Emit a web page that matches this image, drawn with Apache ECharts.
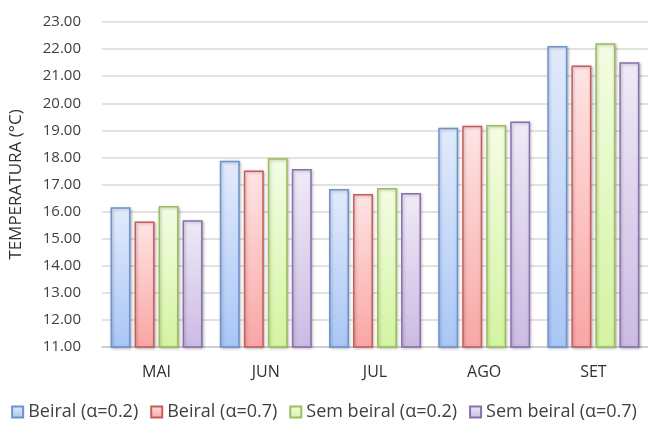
<!DOCTYPE html>
<html><head><meta charset="utf-8">
<script src="https://cdn.jsdelivr.net/npm/echarts@6/dist/echarts.min.js"></script>
<style>html,body{margin:0;padding:0;background:#fff}#c{width:648px;height:426px}</style>
</head><body><div id="c"></div>
<script>
const categories = ['MAI', 'JUN', 'JUL', 'AGO', 'SET'];
const seriesNames = ['Beiral (α=0.2)', 'Beiral (α=0.7)', 'Sem beiral (α=0.2)', 'Sem beiral (α=0.7)'];
const beiral02 = [16.16, 17.88, 16.83, 19.10, 22.11];
const beiral07 = [15.63, 17.52, 16.65, 19.17, 21.39];
const semBeiral02 = [16.21, 17.97, 16.87, 19.20, 22.22];
const semBeiral07 = [15.68, 17.57, 16.69, 19.33, 21.51];
const yTicks = [11, 12, 13, 14, 15, 16, 17, 18, 19, 20, 21, 22, 23];

const styles = [
  {top: '#e2ebfc', bottom: '#a9c6f6', border: '#6d93cd'},
  {top: '#ffe4e4', bottom: '#f8a6a4', border: '#c75d5b'},
  {top: '#f4fde4', bottom: '#d3f4a0', border: '#9cbd5c'},
  {top: '#efeaf7', bottom: '#cbbbe3', border: '#8a6fae'}
];
const values = [beiral02, beiral07, semBeiral02, semBeiral07];
const font = '"Open Sans", sans-serif';

const chart = echarts.init(document.getElementById('c'));
chart.setOption({
  animation: false,
  textStyle: {fontFamily: font},
  grid: {left: 100, right: 0, top: 22, bottom: 79},
  legend: {
    bottom: 0, left: 'center', icon: 'rect', itemWidth: 11, itemHeight: 11, itemGap: 12,
    textStyle: {fontSize: 18, color: '#404040', fontFamily: font},
    data: seriesNames
  },
  xAxis: {
    type: 'category', data: categories,
    axisLine: {lineStyle: {color: '#c8c8c8', width: 1.5}},
    axisTick: {show: false},
    axisLabel: {color: '#303030', fontSize: 16, margin: 17, fontFamily: font},
  },
  yAxis: {
    type: 'value', min: yTicks[0], max: yTicks[yTicks.length - 1], interval: 1,
    name: 'TEMPERATURA (°C)', nameLocation: 'middle', nameGap: 77, nameRotate: 90,
    nameTextStyle: {color: '#303030', fontSize: 17, fontFamily: font},
    axisLine: {show: false}, axisTick: {show: false},
    axisLabel: {color: '#404040', fontSize: 15, margin: 21, formatter: v => v.toFixed(2), fontFamily: font},
    splitLine: {lineStyle: {color: '#d9d9d9', width: 1.5}}
  },
  series: seriesNames.map((n, i) => ({
    name: n, type: 'bar', data: values[i], barWidth: 20, barGap: '20%',
    itemStyle: {
      color: new echarts.graphic.LinearGradient(0, 0, 0, 1, [
        {offset: 0, color: styles[i].top}, {offset: 1, color: styles[i].bottom}
      ]),
      borderColor: styles[i].border, borderWidth: 1.5,
      shadowColor: 'rgba(0,0,0,0.25)', shadowBlur: 3, shadowOffsetX: 1, shadowOffsetY: 1
    }
  }))
});
</script></body></html>
